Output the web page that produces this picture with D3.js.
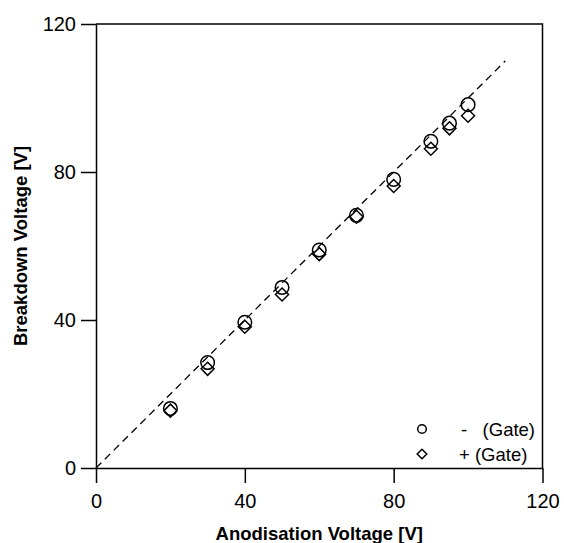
<!DOCTYPE html>
<html>
<head>
<meta charset="utf-8">
<script src="https://cdn.jsdelivr.net/npm/d3@7"></script>
<style>
  body { margin: 0; background: #fff; }
  svg { font-family: "Liberation Sans", Arial, sans-serif; }
</style>
</head>
<body>
<svg id="chart"></svg>
<script>
// anodisation voltage (x) and breakdown voltage for both gate polarities
const anodV = [20, 30, 40, 50, 60, 70, 80, 90, 95, 100];
const minusGate = [16.1, 28.5, 39.4, 48.8, 58.9, 68.3, 78.0, 88.3, 93.2, 98.2];
const plusGate = [15.5, 26.8, 38.2, 46.9, 57.8, 67.9, 76.2, 86.3, 91.8, 95.2];
const xTicks = [0, 40, 80, 120];
const yTicks = [0, 40, 80, 120];
const refLine = [0, 110];
const legendLabels = ["-   (Gate)", "+ (Gate)"];

const width = 564;
const height = 543;
const margin = { top: 24, right: 21.5, bottom: 75, left: 96 };

const svg = d3.select("#chart")
  .attr("width", width)
  .attr("height", height);

const x = d3.scaleLinear()
  .domain([0, 120])
  .range([margin.left, width - margin.right]);

const y = d3.scaleLinear()
  .domain([0, 120])
  .range([height - margin.bottom, margin.top]);

// frame (top and right)
svg.append("path")
  .attr("d", `M${x(0)},${y(120)}H${x(120)}V${y(0)}`)
  .attr("fill", "none")
  .attr("stroke", "#000")
  .attr("stroke-width", 1.5);

const xAxis = svg.append("g")
  .attr("transform", `translate(0,${y(0)})`)
  .call(d3.axisBottom(x).tickValues(xTicks).tickSize(15).tickSizeOuter(0).tickPadding(11));

const yAxis = svg.append("g")
  .attr("transform", `translate(${x(0)},0)`)
  .call(d3.axisLeft(y).tickValues(yTicks).tickSize(15).tickSizeOuter(0).tickPadding(5));

[xAxis, yAxis].forEach(g => {
  g.select(".domain").attr("stroke-width", 1.5);
  g.selectAll(".tick line").attr("stroke-width", 1.5);
  g.selectAll(".tick text")
    .style("font-size", "20px")
    .style("font-family", "'Liberation Sans', Arial, sans-serif")
    .attr("fill", "#000");
});

// dashed 1:1 line
svg.append("line")
  .attr("x1", x(refLine[0]))
  .attr("y1", y(refLine[0]))
  .attr("x2", x(refLine[1]))
  .attr("y2", y(refLine[1]))
  .attr("stroke", "#000")
  .attr("stroke-width", 1.3)
  .attr("stroke-dasharray", "7.5,5");

const diamond = (cx, cy, r) => `M${cx},${cy - r}L${cx + r},${cy}L${cx},${cy + r}L${cx - r},${cy}Z`;

svg.append("g")
  .selectAll("path")
  .data(anodV.map((v, i) => [v, plusGate[i]]))
  .join("path")
  .attr("d", d => diamond(x(d[0]), y(d[1]), 6.5))
  .attr("fill", "none")
  .attr("stroke", "#000")
  .attr("stroke-width", 1.5);

svg.append("g")
  .selectAll("circle")
  .data(anodV.map((v, i) => [v, minusGate[i]]))
  .join("circle")
  .attr("cx", d => x(d[0]))
  .attr("cy", d => y(d[1]))
  .attr("r", 6.8)
  .attr("fill", "none")
  .attr("stroke", "#000")
  .attr("stroke-width", 1.5);

// axis titles
svg.append("text")
  .attr("x", (x(0) + x(120)) / 2)
  .attr("y", 540)
  .attr("text-anchor", "middle")
  .style("font-size", "18.5px")
  .style("font-weight", "bold")
  .text("Anodisation Voltage [V]");

svg.append("text")
  .attr("transform", "rotate(-90)")
  .attr("x", -(y(0) + y(120)) / 2)
  .attr("y", 27)
  .attr("text-anchor", "middle")
  .style("font-size", "18.5px")
  .style("font-weight", "bold")
  .text("Breakdown Voltage [V]");

// legend
const legend = svg.append("g").attr("transform", "translate(422,429)");
legend.append("circle")
  .attr("cx", 0).attr("cy", 0).attr("r", 4.3)
  .attr("fill", "none").attr("stroke", "#000").attr("stroke-width", 1.5);
legend.append("path")
  .attr("d", diamond(0, 25, 4.8))
  .attr("fill", "none").attr("stroke", "#000").attr("stroke-width", 1.5);
legendLabels.forEach((t, i) => {
  legend.append("text")
    .attr("x", i === 0 ? 39 : 37)
    .attr("y", i * 25 + 6.5)
    .style("font-size", "18.5px")
    .style("white-space", "pre")
    .attr("xml:space", "preserve")
    .text(t);
});
</script>
</body>
</html>
